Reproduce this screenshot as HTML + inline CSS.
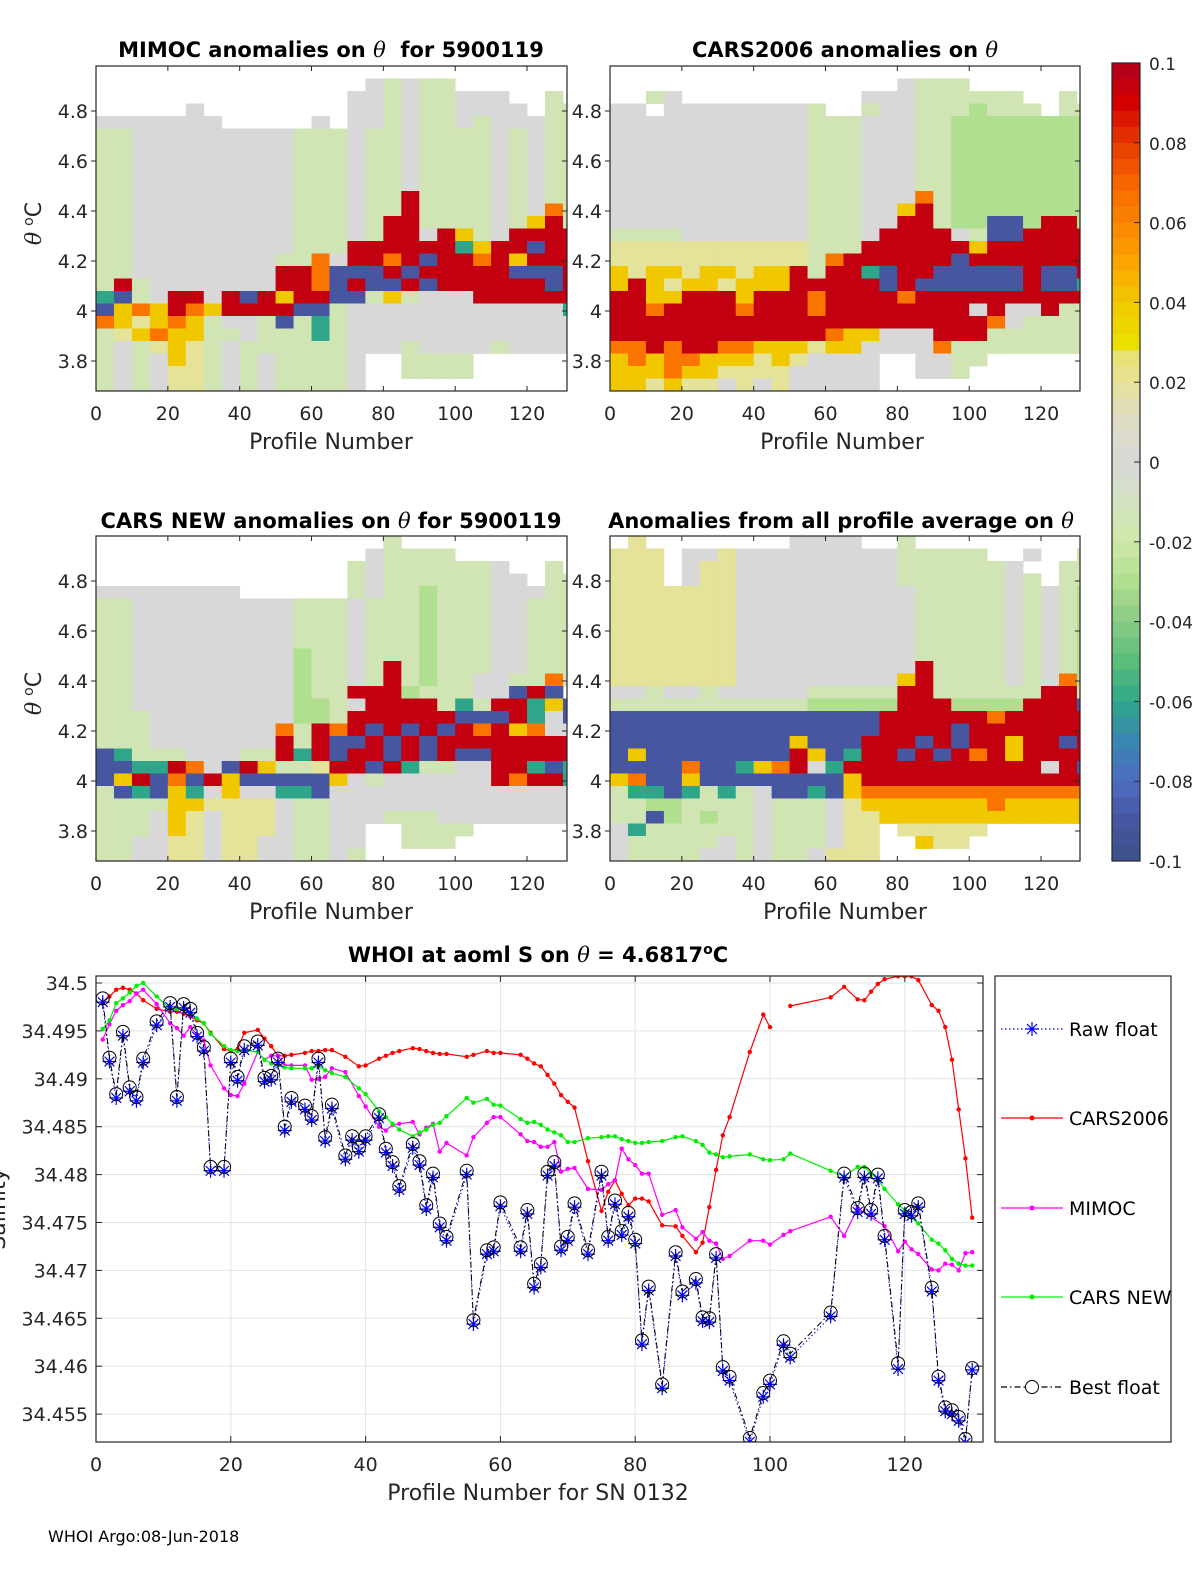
<!DOCTYPE html>
<html><head><meta charset="utf-8"><style>
html,body{margin:0;padding:0;background:#fff}
svg{display:block;font-family:"DejaVu Sans","Liberation Sans",sans-serif}
text{white-space:pre}
</style></head><body>
<svg id="fig" width="1200" height="1575" viewBox="0 0 1200 1575" xmlns="http://www.w3.org/2000/svg">
<defs>
<clipPath id="cp1"><rect x="96" y="66" width="471" height="325"/></clipPath>
<clipPath id="cp2"><rect x="610" y="66" width="470" height="325"/></clipPath>
<clipPath id="cp3"><rect x="96" y="536" width="471" height="325"/></clipPath>
<clipPath id="cp4"><rect x="610" y="536" width="470" height="325"/></clipPath>
<clipPath id="cpb"><rect x="96" y="976" width="887" height="466"/></clipPath>
</defs>
<g id="layer"></g>
</svg>
<script>
const codeValues = {r:0.095,o:0.065,y:0.04,e:0.02,g:0,l:-0.015,m:-0.03,c:-0.06,b:-0.09};
const mimocRows = [
"                           ",
"               glgll       ",
"              gglgllggg  l ",
"     g        gglgllgggg ll",
"ggggggg     g gglgllglgggll",
"llggggggggglllgllgllllglgll",
"llggggggggglllgllgllllglgll",
"llggggggggglllgllgllllglgll",
"llggggggggglllgllgllllglgll",
"llggggggggglllgllgllllglgll",
"llggggggggglllgllrllllglgll",
"llggggggggglllgllrllllglgol",
"llggggggggglllglrrllllglyrl",
"llggggggggglllglrrgrylgrrrr",
"llggggggggglllrrrrrrcyrrbrr",
"llggggggggllogrrorbrroryrrr",
"llggggggggrrobbbrbrrrrrbbbr",
"lrlgggggggrrobrbbrbrrrrrrbr",
"cblgrrgrbryrrbblylgggrrrrrr",
"byoyroyrrrrbblggggggggggggc",
"oyeyoylgglblclggggggggggggg",
"leyoyyllglllclggggggggggggg",
"lgleyelgllllllggglgggglgggg",
"lglgyelglgllllg  llll      ",
"lglgeelglgllllg  llll      ",
"lglgeelglgllllg            "];
const cars2006Rows = [
"                           ",
"                glll       ",
"  lg          gggllllll  l ",
"gg ggggggggl  lgglllmlll ll",
"ggggggggggglllgggllmmmmmmmm",
"ggggggggggglllgggllmmmmmmmm",
"ggggggggggglllgggllmmmmmmmm",
"ggggggggggglllgggllmmmmmmmm",
"ggggggggggglllgggllmmmmmmmm",
"ggggggggggglllgggllmmmmmmmm",
"ggggggggggglllgggolmmmmmmmm",
"ggggggggggglllggyrlmmmmmmmm",
"ggggggggggglllggrrlmmbbmrrm",
"llllggggggglllgrrrrglbbrrrr",
"eeeeeeeeeeelllrrrrrryrrrrrr",
"eeeeeeeeeeelorrrrrrbrrrrrrr",
"yeyyeyyeyyrlrrcbrrbbbbbrbbr",
"yryeyyeyyyrrrrrbrbbbbbbrbbc",
"rryyrrryrrrorrrrorrrrrrrrrr",
"rrorrrrorrrorrrrrrrrgrggrll",
"rrrrrrrrrrrrrrrrrrrrrogllll",
"rrrrrrrrrrrroyygggrrrllllll",
"oororrooyyyeyyggggollllllll",
"yoyooyyyeyegggg  ggll      ",
"yyyoyyeeeeggggg  ggl       ",
"yyeyeegegeggggg            "];
const carsNewRows = [
"                l          ",
"               gllll       ",
"              lgllllllg  l ",
"              lgllllllgg ll",
"gggggggg      lgllmlllgggll",
"llggggggggglllglllmlllgglll",
"llggggggggglllglllmlllgglll",
"llggggggggglllglllmlllgglll",
"llggggggggglllglllmlllgglll",
"llgggggggggmllglllmlllgglll",
"llgggggggggmllglrlmlllgglll",
"llgggggggggmllglrlmllggllol",
"llgggggggggmllrrrmlllggbrb ",
"llgggggggggmmlgrrrrlclrrcyb",
"lllggggggggmmlrrrrrrbbbrcgb",
"lllgggggggolrorbrbrbroryogg",
"lllgggggggrlrbbrbrbrrrrrrrr",
"bclllgggllrcrbrrbrbrbbrrrrr",
"bbccrogbryllerrbrcllggrrcbc",
"byrbobrybbbbbyglggggggrorrc",
"lbcbycgyggccbgggggggggggggg",
"llllyyeeeegllgggggggggggggg",
"lllgyegeeegllggglllgggggggg",
"lllgyegeeegllgg  llll      ",
"llggeegeeggllgg  lll       ",
"llggeegeeggllgl            "];
const allAvgRows = [
" e        gggg  l          ",
"eee ggeggggggggglllll  g  l",
"eee geegggggggggllllllg  ll",
"eee geegggggggggllllllgl ll",
"eeeeeeegggggggggglllllglglm",
"eeeeeeegggggggggglllllglglm",
"eeeeeeegggggggggglllllglglm",
"eeeeeeegggggggggglllllglglm",
"eeeeeeegggggggggglllllglglm",
"eeeeeeegggggggggglllllglglm",
"eeeeeeeggggggggggrllllglglm",
"eeeeeeegggggggggyrllllglgom",
"gglgglggggglllllrrllllllrrl",
"lllllllllllmmmmmrrrmmmmrrrb",
"bbbbbbbbbbbbbbbrrrrrrorrrrr",
"bbbbbbbbbbbbbbbrrrrbrrrrrrr",
"bbbbbbbbbbybbbrrrbrbrryrrbr",
"bybbbbbbbbrybcrrbrbroryrrrr",
"bbbbobbcyorgcrrrrrrrrrrrgrb",
"yobbybbbbbbbbyrrrrrrrrrrrrr",
"lccbclclgbbcbyooooooooooooo",
"llmmllllglllgeyyyyyyyoyyyyy",
"llbmlmllglllgeeyyyyyyyyyyyy",
"gcllllllglllgee eeeee      ",
"glllllglglllgee  yee       ",
"gllllgglgllgeee            "];

const bestProfiles = [1,2,3,4,5,6,7,9,11,12,13,14,15,16,17,19,20,21,22,24,25,26,27,28,29,31,32,33,34,35,37,38,39,40,42,43,44,45,47,48,49,50,51,52,55,56,58,59,60,63,64,65,66,67,68,69,70,71,73,75,76,77,78,79,80,81,82,84,86,87,89,90,91,92,93,94,97,99,100,102,103,109,111,113,114,115,116,117,119,120,121,122,124,125,126,127,128,129,130];
const bestVals = [34.4984,34.4922,34.4884,34.4949,34.4891,34.4881,34.4921,34.4960,34.4979,34.4881,
34.4978,34.4973,34.4948,34.4933,34.4808,34.4808,34.4921,34.4902,34.4934,34.4939,
34.4901,34.4903,34.4921,34.4850,34.4880,34.4872,34.4861,34.4921,34.4839,34.4873,
34.4820,34.4840,34.4828,34.4840,34.4863,34.4827,34.4813,34.4788,34.4832,34.4814,
34.4768,34.4801,34.4749,34.4735,34.4804,34.4648,34.4721,34.4724,34.4771,34.4724,
34.4763,34.4686,34.4707,34.4803,34.4813,34.4725,34.4735,34.4770,34.4721,34.4803,
34.4735,34.4773,34.4741,34.4760,34.4732,34.4627,34.4683,34.4581,34.4719,34.4678,
34.4691,34.4651,34.4650,34.4717,34.4599,34.4589,34.4525,34.4572,34.4585,34.4626,
34.4613,34.4656,34.4801,34.4765,34.4801,34.4763,34.4800,34.4736,34.4603,34.4763,
34.4761,34.4770,34.4682,34.4589,34.4557,34.4554,34.4547,34.4524,34.4598];
const rawProfiles = [1,2,3,4,5,6,7,9,11,12,13,14,15,16,17,19,20,21,22,24,25,26,27,28,29,31,32,33,34,35,37,38,39,40,42,43,44,45,47,48,49,50,51,52,55,56,58,59,60,63,64,65,66,67,68,69,70,71,73,75,76,77,78,79,80,81,82,84,86,87,89,90,91,92,93,94,97,99,100,102,103,109,111,113,114,115,116,117,119,120,121,122,124,125,126,127,128,129,130];
const rawVals = [34.4980,34.4918,34.4880,34.4945,34.4887,34.4877,34.4917,34.4956,34.4975,34.4877,
34.4974,34.4969,34.4944,34.4929,34.4804,34.4804,34.4917,34.4898,34.4930,34.4935,
34.4897,34.4899,34.4917,34.4846,34.4876,34.4868,34.4857,34.4917,34.4835,34.4869,
34.4816,34.4836,34.4824,34.4836,34.4859,34.4823,34.4809,34.4784,34.4828,34.4810,
34.4764,34.4797,34.4745,34.4731,34.4800,34.4644,34.4717,34.4720,34.4767,34.4720,
34.4759,34.4682,34.4703,34.4799,34.4809,34.4721,34.4731,34.4766,34.4717,34.4799,
34.4731,34.4769,34.4737,34.4756,34.4728,34.4623,34.4679,34.4577,34.4715,34.4674,
34.4687,34.4647,34.4646,34.4713,34.4595,34.4585,34.4521,34.4568,34.4581,34.4622,
34.4609,34.4652,34.4797,34.4761,34.4797,34.4759,34.4796,34.4732,34.4597,34.4759,
34.4757,34.4766,34.4678,34.4585,34.4553,34.4550,34.4543,34.4520,34.4596];
const carsProfiles = [1,2,3,4,5,6,7,9,11,12,13,14,15,16,17,19,20,21,22,24,25,26,27,28,29,31,32,33,34,35,37,39,40,42,43,44,45,47,48,49,50,51,52,55,56,58,59,60,63,64,65,66,67,68,69,70,71,73,75,76,77,78,79,80,81,82,84,86,87,89,90,91,92,93,94,97,99,100,101,103,109,111,113,114,115,116,117,119,120,121,122,124,125,126,127,128,129,130];
const carsVals = [34.4979,34.4986,34.4993,34.4995,34.4993,34.4989,34.4982,34.4973,34.4970,34.4970,34.4968,34.4965,34.4961,34.4958,34.4948,34.4931,34.4929,34.4931,34.4948,34.4951,34.4942,34.4934,34.4924,34.4924,34.4925,34.4927,34.4929,34.4929,34.4930,34.4930,34.4923,34.4913,34.4914,34.4921,34.4924,34.4927,34.4929,34.4932,34.4931,34.4929,34.4927,34.4926,34.4926,34.4923,34.4925,34.4929,34.4927,34.4927,34.4925,34.4921,34.4916,34.4913,
34.4904,34.4895,34.4883,34.4876,34.4870,34.4814,34.4762,34.4782,34.4794,34.4780,34.4768,34.4775,34.4775,34.4772,34.4747,34.4746,34.4736,34.4719,34.4729,34.4766,34.4805,34.4841,34.4860,34.4928,34.4967,34.4954,null,34.4976,34.4985,34.4996,34.4983,34.4982,34.4991,34.4999,34.5004,34.5007,34.5007,34.5007,34.5003,34.4977,34.4971,34.4954,34.4920,34.4868,34.4817,34.4755];
const mimocProfiles = [1,2,3,4,5,6,7,9,11,12,13,14,15,16,17,19,20,21,22,24,25,26,27,28,29,31,32,33,34,35,37,39,40,42,43,44,45,47,48,49,50,51,52,55,56,58,59,60,63,64,65,66,67,68,69,70,71,73,75,76,77,78,79,80,81,82,84,86,87,89,90,91,92,93,94,97,99,100,102,103,109,111,113,117,119,120,121,122,124,125,126,127,128,129,130];
const mimocVals = [34.4941,34.4957,34.4971,34.4977,34.4981,34.4989,34.4993,34.4978,34.4958,34.4953,34.4945,34.4954,34.4946,34.4940,34.4914,34.4890,34.4883,34.4882,34.4895,34.4928,34.4920,34.4924,34.4924,34.4914,34.4914,34.4914,34.4899,34.4900,34.4902,34.4911,34.4907,34.4882,34.4871,34.4850,34.4846,34.4852,34.4853,34.4855,34.4842,34.4849,34.4853,34.4824,34.4833,34.4820,34.4839,34.4854,34.4860,34.4860,34.4842,34.4835,34.4834,34.4829,
34.4829,34.4834,34.4803,34.4806,34.4807,34.4785,34.4784,34.4790,34.4794,34.4827,34.4816,34.4810,34.4801,34.4801,34.4758,34.4763,34.4745,34.4733,34.4740,34.4731,34.4728,34.4712,34.4715,34.4731,34.4731,34.4727,34.4737,34.4741,34.4756,34.4736,34.4765,34.4746,34.4720,34.4730,34.4722,34.4717,34.4701,34.4700,34.4707,34.4706,34.4700,34.4718,34.4719];
const carsNewProfiles = [1,2,3,4,5,6,7,9,11,12,13,14,15,16,17,19,20,21,22,24,25,26,27,28,29,31,32,33,34,35,37,39,40,42,43,44,45,47,48,49,50,51,52,55,56,58,59,60,63,64,65,66,67,68,69,70,71,73,75,76,77,78,79,80,81,82,84,86,87,89,90,91,92,93,94,97,99,100,102,103,109,111,113,114,115,116,117,119,120,121,122,124,125,126,127,128,129,130];
const carsNewVals = [34.4952,34.4961,34.4979,34.4984,34.4990,34.4997,34.5000,34.4986,34.4973,34.4973,34.4972,34.4968,34.4963,34.4958,34.4947,34.4934,34.4930,34.4929,34.4930,34.4928,34.4920,34.4916,34.4914,34.4912,34.4911,34.4911,34.4911,34.4913,34.4909,34.4906,34.4902,34.4890,34.4884,34.4866,34.4860,34.4853,34.4847,34.4840,34.4844,34.4847,34.4852,34.4854,34.4861,34.4880,34.4875,34.4879,34.4873,34.4872,34.4858,34.4854,34.4855,34.4852,
34.4847,34.4844,34.4841,34.4834,34.4834,34.4838,34.4839,34.4840,34.4840,34.4837,34.4835,34.4833,34.4833,34.4834,34.4835,34.4839,34.4840,34.4835,34.4831,34.4823,34.4821,34.4818,34.4819,34.4821,34.4816,34.4815,34.4816,34.4822,34.4804,34.4798,34.4808,34.4808,34.4801,34.4795,34.4785,34.4769,34.4763,34.4755,34.4749,34.4732,34.4728,34.4721,34.4712,34.4707,34.4705,34.4705];
const salTicks = [34.5,34.495,34.49,34.485,34.48,34.475,34.47,34.465,34.46,34.455];
const salTickLabels = ["34.5","34.495","34.49","34.485","34.48","34.475","34.47","34.465","34.46","34.455"];
const profTicks = [0,20,40,60,80,100,120];
const thetaTicks = [3.8,4,4.2,4.4,4.6,4.8];
const thetaTickLabels = ["3.8","4","4.2","4.4","4.6","4.8"];
const cbarTicks = [0.1,0.08,0.06,0.04,0.02,0,-0.02,-0.04,-0.06,-0.08,-0.1];
const cbarTickLabels = ["0.1","0.08","0.06","0.04","0.02","0","-0.02","-0.04","-0.06","-0.08","-0.1"];

const NS = "http://www.w3.org/2000/svg";
const layer = document.getElementById('layer');
function mk(tag, attrs, parent, text){
  const e = document.createElementNS(NS, tag);
  for (const k in attrs) e.setAttribute(k, attrs[k]);
  if (text !== undefined) e.textContent = text;
  (parent || layer).appendChild(e);
  return e;
}
const stops = [[-0.1,[60,82,136]],[-0.09,[70,86,160]],[-0.08,[77,108,192]],[-0.07,[58,134,178]],[-0.06,[47,166,138]],[-0.05,[91,189,122]],[-0.04,[136,204,132]],[-0.03,[176,223,144]],[-0.02,[207,232,168]],[-0.01,[210,226,192]],[0,[216,216,216]],[0.01,[222,220,196]],[0.02,[229,226,154]],[0.028,[233,224,106]],[0.03,[235,223,0]],[0.04,[241,200,0]],[0.05,[251,165,0]],[0.06,[251,133,0]],[0.07,[247,101,0]],[0.08,[230,58,0]],[0.09,[212,0,0]],[0.1,[176,0,30]]];
function cmap(v){
  v = Math.max(-0.1, Math.min(0.1, v));
  for (let i=0;i<stops.length-1;i++){
    const a=stops[i], b=stops[i+1];
    if (v>=a[0] && v<=b[0]){
      const t=(v-a[0])/(b[0]-a[0]);
      const c=a[1].map((x,k)=>Math.round(x+(b[1][k]-x)*t));
      return 'rgb('+c.join(',')+')';
    }
  }
  return 'rgb(216,216,216)';
}

const panels = [
 {rows:mimocRows, left:96, right:567, top:66, bottom:391, clip:'cp1', name:'mimoc-panel', title:['MIMOC anomalies on ','θ','\u00a0 for 5900119'], tx:331, ty:57, xlab:331, xlaby:449, ylabelX:true},
 {rows:cars2006Rows, left:610, right:1080, top:66, bottom:391, clip:'cp2', name:'cars2006-panel', title:['CARS2006 anomalies on ','θ',''], tx:845, ty:57, xlab:842, xlaby:449, ylabelX:false},
 {rows:carsNewRows, left:96, right:567, top:536, bottom:861, clip:'cp3', name:'cars-new-panel', title:['CARS NEW anomalies on ','θ',' for 5900119'], tx:331, ty:528, xlab:331, xlaby:919, ylabelX:true},
 {rows:allAvgRows, left:610, right:1080, top:536, bottom:861, clip:'cp4', name:'all-average-panel', title:['Anomalies from all profile average on ','θ',''], tx:841, ty:528, xlab:845, xlaby:919, ylabelX:false}
];
const PXU = 3.592;
panels.forEach(p=>{
  const g = mk('g',{});
  
  
  const xs = v => p.left + v*PXU;
  const ys = th => p.top + (4.98-th)*250;
  const cells = mk('g',{'clip-path':'url(#'+p.clip+')'}, g);
  
  
  p.rows.forEach((row,i)=>{
    const thTop = 4.98-0.05*i, thBot = thTop-0.05;
    for (let j=0;j<27;j++){
      const ch=row[j];
      if (!ch || ch===' ' || !(ch in codeValues)) continue;
      const x0=xs(5*j), x1=xs(5*j+5);
      const r = mk('rect',{x:x0.toFixed(2), y:ys(thTop).toFixed(2), width:(x1-x0+0.4).toFixed(2), height:(ys(thBot)-ys(thTop)+0.4).toFixed(2), fill:cmap(codeValues[ch])}, cells);
      
      
    }
  });
  const box = mk('rect',{x:p.left, y:p.top, width:p.right-p.left, height:p.bottom-p.top, fill:'none', stroke:'#262626', 'stroke-width':1.2}, g);
  
  
  profTicks.forEach(t=>{
    const x=xs(t);
    mk('line',{x1:x,x2:x,y1:p.bottom,y2:p.bottom-5,stroke:'#262626'},g);
    mk('line',{x1:x,x2:x,y1:p.top,y2:p.top+5,stroke:'#262626'},g);
    const tl = mk('text',{x:x,y:p.bottom+29,'text-anchor':'middle','font-size':19,fill:'#262626'},g,String(t));
    
    
  });
  thetaTicks.forEach((t,k)=>{
    const y=ys(t);
    mk('line',{x1:p.left-5,x2:p.left,y1:y,y2:y,stroke:'#262626'},g);
    mk('line',{x1:p.right,x2:p.right-5,y1:y,y2:y,stroke:'#262626'},g);
    const tl = mk('text',{x:p.left-8,y:y+7,'text-anchor':'end','font-size':19,fill:'#262626'},g,thetaTickLabels[k]);
    
    
  });
  const t = mk('text',{x:p.tx,y:p.ty,'text-anchor':'middle','font-size':21,'font-weight':'bold',fill:'#000'},g);
  
  
  mk('tspan',{},t,p.title[0]);
  mk('tspan',{'font-style':'italic','font-weight':'normal','font-family':'"DejaVu Serif","Liberation Serif",serif'},t,p.title[1]);
  mk('tspan',{},t,p.title[2]);
  const xl = mk('text',{x:p.xlab,y:p.xlaby,'text-anchor':'middle','font-size':22,fill:'#262626'},g,'Profile Number');
  
  
  if (p.ylabelX){
    const cy = (p.top+p.bottom)/2 - 5;
    const yl = mk('text',{x:0,y:0,transform:'translate(41,'+cy+') rotate(-90)','text-anchor':'middle','font-size':22,fill:'#262626'},g);
    
    
    mk('tspan',{'font-style':'italic','font-family':'"DejaVu Serif","Liberation Serif",serif'},yl,'θ');
    mk('tspan',{dx:6,dy:-8,'font-size':14},yl,'o');
    mk('tspan',{dy:8},yl,'C');
  }
});

(function(){
  const g = mk('g',{});
  
  
  const top=63, bot=861, left=1112, w=28;
  const cy = v => top + (0.1-v)/0.2*(bot-top);
  const n=50;
  for (let i=0;i<n;i++){
    const v0 = 0.1 - i*0.2/n, v1 = v0-0.2/n;
    mk('rect',{x:left,y:cy(v0),width:w,height:cy(v1)-cy(v0)+0.3,fill:cmap((v0+v1)/2)},g);
  }
  mk('rect',{x:left,y:top,width:w,height:bot-top,fill:'none',stroke:'#262626','stroke-width':1.2},g);
  cbarTicks.forEach((t,k)=>{
    const y=cy(t);
    mk('line',{x1:left+w-6,x2:left+w,y1:y,y2:y,stroke:'#262626'},g);
    const tl = mk('text',{x:1149,y:y+7,'font-size':17,fill:'#262626'},g,cbarTickLabels[k]);
    
    
  });
})();

(function(){
  const g = mk('g',{});
  
  
  const L=96, R=983, T=976, B=1442;
  const xs = p => L + p*6.74;
  const ys = v => 983 + (34.5-v)*9580;
  salTicks.forEach((t,k)=>{
    const y=ys(t);
    mk('line',{x1:L,x2:R,y1:y,y2:y,stroke:'#e3e3e3'},g);
    mk('line',{x1:L,x2:L+6,y1:y,y2:y,stroke:'#262626'},g);
    mk('line',{x1:R,x2:R-6,y1:y,y2:y,stroke:'#262626'},g);
    const tl = mk('text',{x:88,y:y+7,'text-anchor':'end','font-size':19,fill:'#262626'},g,salTickLabels[k]);
    
    
  });
  profTicks.forEach(t=>{
    const x=xs(t);
    mk('line',{x1:x,x2:x,y1:T,y2:B,stroke:'#e3e3e3'},g);
    mk('line',{x1:x,x2:x,y1:B,y2:B-6,stroke:'#262626'},g);
    mk('line',{x1:x,x2:x,y1:T,y2:T+6,stroke:'#262626'},g);
    const tl = mk('text',{x:x,y:B+29,'text-anchor':'middle','font-size':19,fill:'#262626'},g,String(t));
    
    
  });
  const plot = mk('g',{'clip-path':'url(#cpb)'},g);
  function pathOf(ps, vs){
    let d='', pen=false;
    for (let i=0;i<ps.length;i++){
      if (vs[i]===null){pen=false;continue;}
      d += (pen?'L':'M') + xs(ps[i]).toFixed(1)+','+ys(vs[i]).toFixed(1);
      pen=true;
    }
    return d;
  }
  function dotSeries(name, ps, vs, color){
    const sg = mk('g',{},plot);
    
    
    mk('path',{d:pathOf(ps,vs),fill:'none',stroke:color,'stroke-width':1.2},sg);
    for (let i=0;i<ps.length;i++){
      if (vs[i]===null) continue;
      const c = mk('circle',{cx:xs(ps[i]),cy:ys(vs[i]),r:2.2,fill:color},sg);
      
      
    }
  }
  dotSeries('cars2006-series', carsProfiles, carsVals, '#ff0000');
  dotSeries('mimoc-series', mimocProfiles, mimocVals, '#ff00ff');
  dotSeries('cars-new-series', carsNewProfiles, carsNewVals, '#00ee00');
  const rg = mk('g',{},plot);
  
  
  mk('path',{d:pathOf(rawProfiles,rawVals),fill:'none',stroke:'#0000ff','stroke-width':1,'stroke-dasharray':'1.5,2.5'},rg);
  function star(cx,cy,s,parent,color){
    const d=`M${cx-s},${cy}L${cx+s},${cy}M${cx},${cy-s}L${cx},${cy+s}M${cx-s*0.7},${cy-s*0.7}L${cx+s*0.7},${cy+s*0.7}M${cx-s*0.7},${cy+s*0.7}L${cx+s*0.7},${cy-s*0.7}`;
    return mk('path',{d:d,stroke:color,'stroke-width':1.2,fill:'none'},parent);
  }
  for (let i=0;i<rawProfiles.length;i++){
    const s = star(xs(rawProfiles[i]), ys(rawVals[i]), 7, rg, '#0000ff');
    
    
  }
  const bg = mk('g',{},plot);
  
  
  mk('path',{d:pathOf(bestProfiles,bestVals),fill:'none',stroke:'#000','stroke-width':1,'stroke-dasharray':'6,3,1.5,3'},bg);
  for (let i=0;i<bestProfiles.length;i++){
    const c = mk('circle',{cx:xs(bestProfiles[i]),cy:ys(bestVals[i]),r:6.5,fill:'none',stroke:'#000','stroke-width':1},bg);
    
    
  }
  const box = mk('rect',{x:L,y:T,width:R-L,height:B-T,fill:'none',stroke:'#262626','stroke-width':1.2},g);
  
  
  const t = mk('text',{x:538,y:962,'text-anchor':'middle','font-size':21,'font-weight':'bold',fill:'#000'},g);
  
  
  mk('tspan',{},t,'WHOI at aoml S on ');
  mk('tspan',{'font-style':'italic','font-weight':'normal','font-family':'"DejaVu Serif","Liberation Serif",serif'},t,'θ');
  mk('tspan',{},t,' = 4.6817');
  mk('tspan',{dy:-8,'font-size':14},t,'o');
  mk('tspan',{dy:8},t,'C');
  const xl = mk('text',{x:538,y:1500,'text-anchor':'middle','font-size':22,fill:'#262626'},g,'Profile Number for SN 0132');
  
  
  const yl = mk('text',{x:0,y:0,transform:'translate(5,1209) rotate(-90)','text-anchor':'middle','font-size':22,fill:'#262626'},g,'Salinity');
  
  
  const lg = mk('g',{});
  
  
  mk('rect',{x:995,y:976,width:176,height:466,fill:'#fff',stroke:'#262626','stroke-width':1.2},lg);
  const entries = [['Raw float','#0000ff','raw'],['CARS2006','#ff0000','dot'],['MIMOC','#ff00ff','dot'],['CARS NEW','#00ee00','dot'],['Best float','#000','best']];
  const ey = [1029,1118,1208,1297,1387];
  entries.forEach((e,k)=>{
    const eg = mk('g',{},lg);
    
    
    const y = ey[k];
    const la = {x1:1001,x2:1063,y1:y,y2:y,stroke:e[1],'stroke-width':1.2};
    if (e[2]==='raw') la['stroke-dasharray']='1.5,2.5';
    if (e[2]==='best') la['stroke-dasharray']='6,3,1.5,3';
    mk('line',la,eg);
    if (e[2]==='dot') mk('circle',{cx:1032,cy:y,r:2.5,fill:e[1]},eg);
    if (e[2]==='raw') star(1032,y,7,eg,'#0000ff');
    if (e[2]==='best') mk('circle',{cx:1032,cy:y,r:6.5,fill:'#fff',stroke:'#000'},eg);
    mk('text',{x:1069,y:y+7,'font-size':19,fill:'#000'},eg,e[0]);
  });
})();
const foot = mk('text',{x:48,y:1542,'font-size':16,fill:'#000'},layer,'WHOI Argo:08-Jun-2018');


</script>
</body></html>
